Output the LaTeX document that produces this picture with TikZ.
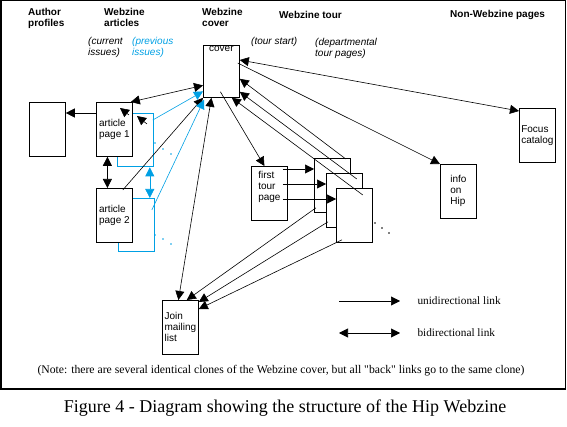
\documentclass[tikz,border=0pt]{standalone}
\usepackage{fontspec}
\setmainfont{Liberation Serif}
\setsansfont{Liberation Sans}
\usetikzlibrary{arrows.meta}
\definecolor{hipblue}{RGB}{0,160,228}
\newcommand{\boxfont}{\sffamily\fontsize{10}{11}\selectfont}
\newcommand{\headfont}{\sffamily\bfseries\fontsize{10}{11}\selectfont}
\newcommand{\hintfont}{\sffamily\itshape\fontsize{10}{11}\selectfont}

\begin{document}
\begin{tikzpicture}[x=1pt,y=-1pt,
  >={Triangle[length=9pt,width=9pt]},
  link/.style={line width=0.6pt},
  page/.style={draw,fill=white,line width=0.8pt,anchor=north west,
    minimum width=36pt,minimum height=54pt,inner sep=0pt,align=left,font=\boxfont},
  clone/.style={draw=hipblue,line width=0.8pt,anchor=north west,
    minimum width=36pt,minimum height=53.5pt,inner sep=0pt},
  head/.style={anchor=west,align=left,font=\headfont,inner sep=0pt},
  hint/.style={anchor=west,align=left,font=\hintfont,inner sep=0pt}]
  \useasboundingbox (0,0) rectangle (567,427);
  \draw[line width=1.5pt] (0.75,0.75) rectangle (565.5,389);
  % column headings
  \node[head] (hauthor) at (28,18.5) {Author\\profiles};
  \node[head] (harticles) at (104,17.5) {Webzine\\articles};
  \node[head] (hcover) at (202,17.5) {Webzine\\cover};
  \node[head] (htour) at (279,15) {Webzine tour};
  \node[head] (hother) at (450,15) {Non-Webzine pages};
  \node[hint] (hcurrent) at (88,47.5) {(current\\issues)};
  \node[hint,text=hipblue] (hprevious) at (132,47.5) {(previous\\issues)};
  \node[hint] (hstart) at (251,42) {(tour start)};
  \node[hint] (hdept) at (315,48) {(departmental\\tour pages)};
  % pages
  \node[clone] (blue1) at (117,113) {};
  \node[clone] (blue2) at (118,198) {};
  \node[page] (author) at (29,102) {};
  \node[page] (art1) at (96,102) {article\\page 1};
  \node[page] (art2) at (96,188) {article\\page 2};
  \node[page,minimum height=52pt,label={[font=\boxfont,anchor=north,inner sep=1pt]north:cover}] (cover) at (203,45) {};
  \node[page] (first) at (251,166) {first\\tour\\page\\[4pt]};
  \foreach \n/\x/\y in {1/314/158,2/326/173,3/336/188}
    \node[page] (tour\n) at (\x,\y) {};
  \node[page] (info) at (440,164) {info\\on\\Hip};
  \node[page] (focus) at (519,108) {Focus\\catalog};
  \node[page] (join) at (162,300) {Join\\mailing\\list};
  % more clones
  \foreach \x/\y in {155/143,163/149,171/154,155/235,163/239,171/244}
    \fill[hipblue] (\x,\y) circle (0.8);
  \foreach \x/\y in {375/223,382/228,389/233}
    \fill (\x,\y) circle (0.8);
  % article links
  \draw[link,->] ([yshift=-11pt]art1.north west) -- ([yshift=-11pt]author.north east);
  \draw[link,<->] ([xshift=-7pt]art1.south) -- ([xshift=-7pt]art2.north);
  \draw[link,<->,hipblue] ([xshift=-4pt]blue1.south east) -- ([xshift=-5pt]blue2.north east);
  \draw[link,<->] ([xshift=-2pt]art1.north east) -- ([yshift=-14pt]cover.west);
  \draw[link,->] ([xshift=-10pt,yshift=-2pt]art2.north east) -- (cover.south west);
  \draw[link,->,hipblue] ([xshift=-1pt,yshift=-7pt]blue1.north east) -- ([yshift=-20pt]cover.west);
  \draw[link,->,hipblue] ([xshift=-3pt,yshift=-12pt]blue2.north east) -- ([xshift=1pt,yshift=-2pt]cover.south west);
  \coordinate (headA) at (129,115);
  \coordinate (tipA) at (120,108);
  \coordinate (headB) at (147,124);
  \coordinate (tipB) at (137,116);
  \draw[link,->] (headA) -- (tipA);
  \draw[link,->] (headB) -- (tipB);
  % cover links
  \draw[link,<->] ([yshift=-15pt]cover.north east) -- ([yshift=-3pt]focus.north west);
  \draw[link,->] ([xshift=-2pt,yshift=-18pt]cover.north east) -- (info.north west);
  \draw[link,<->] ([xshift=-10pt]cover.south) -- ([xshift=-2pt]join.north);
  \draw[link,->] ([xshift=-1pt,yshift=6pt]cover.south) -- ([xshift=-5pt]first.north);
  % tour links
  \foreach \n in {1,2,3}{
    \coordinate (in\n) at ([yshift=-11pt]tour\n.north west);
    \draw[link,->] (in\n -| first.east) ++(-5,0) -- (in\n);
  }
  \draw[link,->] ([xshift=-5pt,yshift=-1pt]tour1.north east) -- ([yshift=19pt]cover.south east);
  \draw[link,->] ([xshift=-6pt,yshift=-6pt]tour2.north east) -- ([yshift=6pt]cover.south east);
  \draw[link,->] ([xshift=-10pt,yshift=-7pt]tour3.north east) -- ([xshift=-8pt]cover.south east);
  \draw[link,->] ([xshift=2pt,yshift=5pt]tour1.south west) -- ([xshift=-12pt]join.north east);
  \draw[link,->] ([xshift=2pt,yshift=6pt]tour2.south west) -- ([yshift=-2pt]join.north east);
  \draw[link,->] ([xshift=6pt,yshift=3pt]tour3.south west) -- ([yshift=-9pt]join.north east);
  % legend
  \coordinate (uniA) at (339,301);
  \coordinate (uniB) at (400,301);
  \coordinate (biA) at (339,333);
  \coordinate (biB) at (400,333);
  \draw[link,->] (uniA) -- (uniB);
  \draw[link,<->] (biA) -- (biB);
  \node[anchor=west,font=\fontsize{11.3}{13}\selectfont] (unitext) at (414,301) {unidirectional link};
  \node[anchor=west,font=\fontsize{11.3}{13}\selectfont] (bitext) at (414,333) {bidirectional link};
  \node[font=\fontsize{11.7}{13}\selectfont] (note) at (281,371)
    {(Note: there are several identical clones of the Webzine cover, but all \textquotedbl back\textquotedbl{} links go to the same clone)};
  \node[font=\fontsize{18}{21}\selectfont] (caption) at (285,408)
    {Figure 4 - Diagram showing the structure of the Hip Webzine};
\end{tikzpicture}
\end{document}
